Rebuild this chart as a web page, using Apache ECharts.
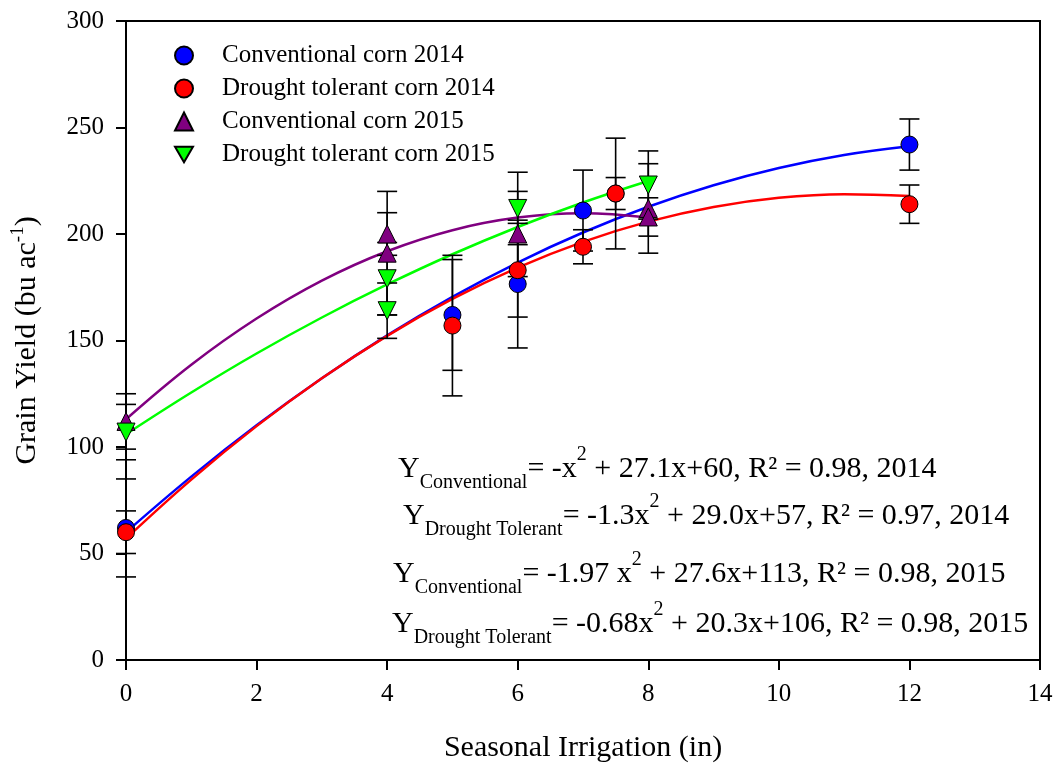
<!DOCTYPE html>
<html>
<head>
<meta charset="utf-8">
<script src="https://cdn.jsdelivr.net/npm/echarts@6/dist/echarts.min.js"></script>
<style>
html,body{margin:0;padding:0;background:#fff;}
#chart{width:1053px;height:763px;}
</style>
</head>
<body>
<div id="chart"></div>
<script>
// ---- data ----
const seriesNames = ['Conventional corn 2014', 'Drought tolerant corn 2014', 'Conventional corn 2015', 'Drought tolerant corn 2015'];

const conv14X = [0, 5, 6, 7, 7.5, 12];
const conv14Y = [62, 162, 176.5, 211, 219, 242];
const conv14Err = [23, 26, 30, 19, 7.5, 12];

const drought14X = [0, 5, 6, 7, 7.5, 12];
const drought14Y = [60, 157, 183, 194, 219, 214];
const drought14Err = [10, 33, 22, 8, 26, 9];

const conv15X = [0, 4, 4, 6, 8, 8];
const conv15Y = [112, 200, 191, 200, 212, 208];
const conv15Err = [13, 10, 29, 20, 21, 9];

const drought15X = [0, 4, 4, 6, 8];
const drought15Y = [107, 179, 164, 212, 223];
const drought15Err = [13, 17, 13, 17, 16];

// fitted curves
const fit14X = [0, 1, 2, 3, 4, 5, 6, 7, 8, 9, 10, 11, 12];
const conv14Fit = [60, 86.1, 110.2, 132.3, 152.4, 170.5, 186.6, 200.7, 212.8, 222.9, 231, 237.1, 241.2];
const drought14Fit = [57, 84.7, 109.8, 132.3, 152.2, 169.5, 184.2, 196.3, 205.8, 212.7, 217, 218.7, 217.8];
const fit15X = [0, 1, 2, 3, 4, 5, 6, 7, 8];
const conv15Fit = [113, 138.6, 160.3, 178.1, 191.9, 201.8, 207.7, 209.7, 207.7];
const drought15Fit = [106, 125.6, 143.9, 160.8, 176.3, 190.5, 203.3, 214.8, 224.9];

const xTicks = [0, 2, 4, 6, 8, 10, 12, 14];
const yTicks = [0, 50, 100, 150, 200, 250, 300];

const eqLines = [
  ['Conventional', '= -x', ' + 27.1x+60, R² = 0.98, 2014'],
  ['Drought Tolerant', '= -1.3x', ' + 29.0x+57, R² = 0.97, 2014'],
  ['Conventional', '= -1.97 x', ' + 27.6x+113, R² = 0.98, 2015'],
  ['Drought Tolerant', '= -0.68x', ' + 20.3x+106, R² = 0.98, 2015']
];

// ---- styling ----
const FONT = 'Liberation Serif';
const colors = ['#0000ff', '#ff0000', '#800080', '#00ff00'];
const invTri = 'path://M0,0 L20,0 L10,17.32 Z';
const symbols = ['circle', 'circle', 'triangle', invTri];
const symSizes = [17, 17, 18, 18];

const zip2 = (xs, ys) => xs.map((x, i) => [x, ys[i]]);
const zip3 = (xs, ys, es) => xs.map((x, i) => [x, ys[i], es[i]]);

const groups = [
  [conv14X, conv14Y, conv14Err],
  [drought14X, drought14Y, drought14Err],
  [conv15X, conv15Y, conv15Err],
  [drought15X, drought15Y, drought15Err]
];
const fits = [
  [fit14X, conv14Fit],
  [fit14X, drought14Fit],
  [fit15X, conv15Fit],
  [fit15X, drought15Fit]
];

function errRender(params, api) {
  const x = api.value(0), y = api.value(1), e = api.value(2);
  const t = api.coord([x, y + e]);
  const b = api.coord([x, y - e]);
  const w = 10;
  const st = { stroke: '#000', lineWidth: 1.6 };
  return {
    type: 'group',
    children: [
      { type: 'line', shape: { x1: t[0], y1: t[1], x2: b[0], y2: b[1] }, style: st },
      { type: 'line', shape: { x1: t[0] - w, y1: t[1], x2: t[0] + w, y2: t[1] }, style: st },
      { type: 'line', shape: { x1: b[0] - w, y1: b[1], x2: b[0] + w, y2: b[1] }, style: st }
    ]
  };
}

const series = [];
fits.forEach((f, i) => {
  series.push({
    name: 'fit' + i,
    type: 'line',
    data: zip2(f[0], f[1]),
    smooth: 0.4,
    showSymbol: false,
    lineStyle: { color: colors[i], width: 2.5 },
    z: 2,
    silent: true
  });
});
groups.forEach((g, i) => {
  series.push({
    name: 'err' + i,
    type: 'custom',
    data: zip3(g[0], g[1], g[2]),
    encode: { x: 0, y: 1 },
    renderItem: errRender,
    z: 3,
    silent: true
  });
});
groups.forEach((g, i) => {
  series.push({
    name: seriesNames[i],
    type: 'scatter',
    data: zip2(g[0], g[1]),
    symbol: symbols[i],
    symbolSize: symSizes[i],
    itemStyle: { color: colors[i], borderColor: '#000', borderWidth: 1, opacity: 1 },
    z: 4
  });
});

const eqTop = [469, 516, 574, 624];
const eqLeft = [398, 403, 393, 392];
const graphics = eqLines.map((l, i) => ({
  type: 'text',
  x: eqLeft[i],
  y: eqTop[i],
  style: {
    text: '{m|Y}{s|' + l[0] + '}{m|' + l[1] + '}{p|2}{m|' + l[2] + '}',
    verticalAlign: 'middle',
    align: 'left',
    rich: {
      m: { fontFamily: FONT, fontSize: 30, fill: '#000', verticalAlign: 'middle' },
      s: { fontFamily: FONT, fontSize: 20, fill: '#000', padding: [27, 0, 0, 0], verticalAlign: 'middle' },
      p: { fontFamily: FONT, fontSize: 20, fill: '#000', padding: [0, 0, 28, 0], verticalAlign: 'middle' }
    }
  }
}));

const chart = echarts.init(document.getElementById('chart'), null, { renderer: 'canvas' });
chart.setOption({
  animation: false,
  backgroundColor: '#fff',
  grid: { left: 126, right: 13, top: 21, bottom: 103, containLabel: false, outerBoundsMode: 'none', show: true, borderColor: '#000', borderWidth: 2, backgroundColor: 'transparent' },
  legend: {
    data: seriesNames,
    orient: 'vertical',
    left: 169,
    top: 38,
    itemWidth: 18,
    itemHeight: 18,
    itemGap: 8,
    textStyle: { fontFamily: FONT, fontSize: 25, color: '#000', lineHeight: 25, padding: [0, 0, 0, 24] },
    selectedMode: false
  },
  xAxis: {
    type: 'value',
    min: xTicks[0],
    max: xTicks[xTicks.length - 1],
    interval: 2,
    name: 'Seasonal Irrigation (in)',
    nameLocation: 'middle',
    nameGap: 73,
    nameTextStyle: { fontFamily: FONT, fontSize: 30, color: '#000' },
    axisLine: { show: true, lineStyle: { color: '#000', width: 2 } },
    axisTick: { show: true, inside: false, length: 10, lineStyle: { color: '#000', width: 2 } },
    axisLabel: { fontFamily: FONT, fontSize: 25, color: '#000', margin: 22 },
    splitLine: { show: false }
  },
  yAxis: {
    type: 'value',
    min: yTicks[0],
    max: yTicks[yTicks.length - 1],
    interval: 50,
    name: '{a|Grain Yield (bu ac}{b|-1}{a|)}',
    nameLocation: 'middle',
    nameGap: 80,
    nameTextStyle: {
      color: '#000',
      rich: {
        a: { fontFamily: FONT, fontSize: 30, color: '#000' },
        b: { fontFamily: FONT, fontSize: 19, color: '#000', padding: [0, 0, 18, 0] }
      }
    },
    axisLine: { show: true, lineStyle: { color: '#000', width: 2 } },
    axisTick: { show: true, inside: false, length: 10, lineStyle: { color: '#000', width: 2 } },
    axisLabel: { fontFamily: FONT, fontSize: 25, color: '#000', margin: 22 },
    splitLine: { show: false }
  },
  graphic: graphics,
  series: series
});
</script>
</body>
</html>
